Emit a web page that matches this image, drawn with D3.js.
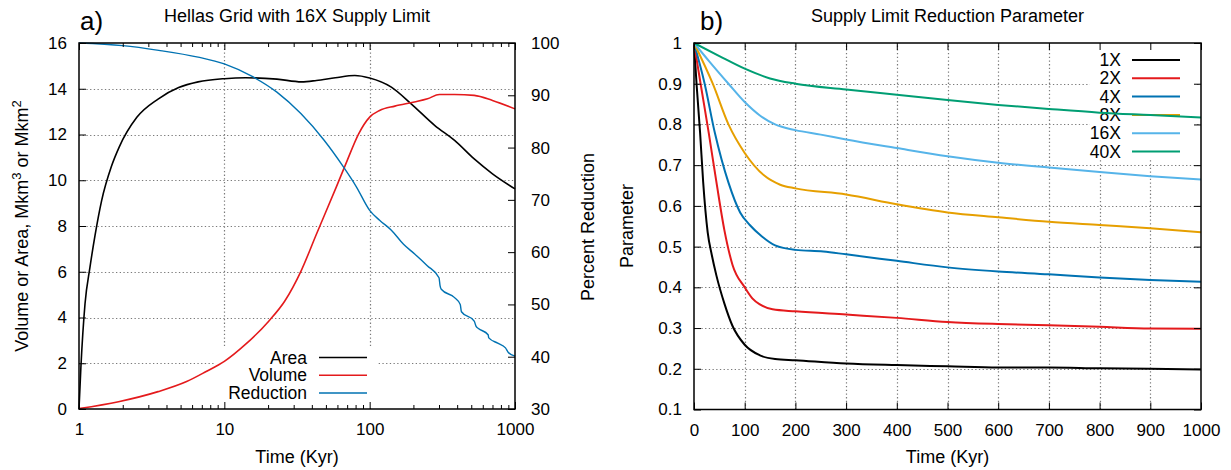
<!DOCTYPE html>
<html>
<head>
<meta charset="utf-8">
<script src="https://cdn.jsdelivr.net/npm/d3@7"></script>
<style>
body { margin: 0; background: #fff; }
text { font-family: "Liberation Sans", Arial, sans-serif; fill: #000; }
.axis path { display: none; }
</style>
</head>
<body>
<svg id="root" width="1231" height="470"></svg>
<script>
// panel a: [time kyr, value]
let areaData = [[1,0],[1.03,1.8],[1.1,4.6],[1.19,6.2],[1.29,7.6],[1.43,9.1],[1.67,10.6],[1.89,11.45],
    [2.5,12.75],[3.5,13.55],[4.85,14.05],[6.6,14.3],[10,14.44],[14,14.48],[23,14.42],[34,14.3],
    [43,14.36],[58,14.48],[79,14.58],[100,14.47],[141,14.07],[193,13.34],[281,12.39],[384,11.74],
    [524,10.93],[700,10.28],[1000,9.62]];
let volumeData = [[1,0.02],[1.87,0.32],[3.5,0.76],[5.5,1.2],[7.5,1.64],[10,2.08],[13.9,2.81],
    [20.2,3.84],[26,4.71],[33.7,6.03],[43,7.64],[58.8,9.69],[70,10.86],[84,12.03],[100,12.76],
    [117,13.05],[149,13.24],[203,13.42],[250,13.56],[302,13.75],[384,13.75],[524,13.71],[700,13.49],
    [1000,13.12]];
let reductionData = [[1,100],[2,99.5],[3.54,98.6],[6.6,97.3],[10,96.0],[15.8,93.5],[23,90.6],
    [33.6,86.5],[48.6,81.4],[66,76.3],[81,72.5],[100,68.0],[117,66.1],[141,64.2],[171,61.5],
    [205,59.6],[249,57.4],[300,55.1],[305,53.6],[311,52.9],[384,51.3],[420,50.0],[428,48.6],
    [524,46.8],[540,45.8],[560,45.4],[653,44.2],[660,43.6],[760,42.6],[860,41.7],[900,40.8],[1000,40.1]];

let leftNames = ['Area', 'Volume', 'Reduction'];
let leftColors = ['#000000', '#e41a1c', '#0072b2'];
let logMajor = [1, 10, 100, 1000];
let leftTicks = [0, 2, 4, 6, 8, 10, 12, 14, 16];
let rightTicks = [30, 40, 50, 60, 70, 80, 90, 100];

// panel b: [time kyr, parameter]
let param1X = [[0,1],[5,0.9],[12,0.78],[18,0.66],[27,0.535],[35,0.48],[44,0.43],[60,0.36],[76,0.305],
    [100,0.259],[130,0.233],[160,0.224],[200,0.221],[300,0.213],[400,0.209],[500,0.206],[600,0.203],
    [700,0.203],[800,0.201],[900,0.2],[1000,0.198]];
let param2X = [[0,1],[13,0.9],[29,0.78],[44,0.66],[60,0.54],[76,0.455],[100,0.4],[115,0.373],[130,0.358],
    [155,0.346],[200,0.341],[300,0.333],[400,0.325],[500,0.315],[600,0.31],[700,0.307],[800,0.303],
    [900,0.299],[1000,0.298]];
let param4X = [[0,1],[21,0.9],[41,0.78],[68,0.657],[91,0.584],[110,0.553],[134,0.525],[160,0.503],
    [200,0.492],[255,0.488],[300,0.481],[400,0.465],[500,0.449],[600,0.439],[700,0.432],[800,0.424],
    [900,0.418],[1000,0.414]];
let param8X = [[0,1],[37,0.9],[68,0.8],[100,0.73],[138,0.675],[170,0.652],[200,0.643],[300,0.628],
    [400,0.604],[500,0.584],[600,0.572],[700,0.561],[800,0.553],[900,0.545],[1000,0.535]];
let param16X = [[0,1],[30,0.955],[68,0.9],[100,0.855],[130,0.822],[160,0.8],[200,0.786],[250,0.775],
    [300,0.763],[400,0.742],[500,0.722],[600,0.706],[700,0.694],[800,0.683],[900,0.673],[1000,0.665]];
let param40X = [[0,1],[50,0.968],[100,0.937],[150,0.913],[200,0.9],[300,0.886],[400,0.873],[500,0.86],
    [600,0.848],[700,0.838],[800,0.829],[900,0.823],[1000,0.817]];

let paramNames = ['1X', '2X', '4X', '8X', '16X', '40X'];
let paramColors = ['#000000', '#e41a1c', '#0072b2', '#e69f00', '#56b4e9', '#009e73'];
let timeTicks = [0, 100, 200, 300, 400, 500, 600, 700, 800, 900, 1000];
let paramTicks = [0.1, 0.2, 0.3, 0.4, 0.5, 0.6, 0.7, 0.8, 0.9, 1];

let svg = d3.select('#root');
let tickFont = 17;
let labelFont = 18;

function styleAxis(g) {
    g.attr('font-size', tickFont).attr('font-family', '"Liberation Sans", Arial, sans-serif');
    g.selectAll('.tick line').attr('stroke', '#000');
    return g;
}

function grid(g, horiz, vals, scale, from, to) {
    g.append('g')
        .selectAll('line')
        .data(vals)
        .join('line')
        .attr('x1', d => horiz ? from : Math.round(scale(d)) + 0.5)
        .attr('x2', d => horiz ? to : Math.round(scale(d)) + 0.5)
        .attr('y1', d => horiz ? Math.round(scale(d)) + 0.5 : from)
        .attr('y2', d => horiz ? Math.round(scale(d)) + 0.5 : to)
        .attr('stroke', '#7a7a7a')
        .attr('stroke-width', 1.2)
        .attr('stroke-dasharray', '1.3,2.4');
}

function legend(g, names, colors, textRight, lineX1, lineX2, top, step, width) {
    names.forEach((name, i) => {
        let y = top + i * step;
        g.append('text').attr('x', textRight).attr('y', y).attr('dy', '0.35em')
            .attr('text-anchor', 'end').attr('font-size', tickFont + 0.5).text(name);
        g.append('line').attr('x1', lineX1).attr('x2', lineX2).attr('y1', y).attr('y2', y)
            .attr('stroke', colors[i]).attr('stroke-width', width);
    });
}

// ---------------- panel a ----------------
function drawLeft() {
    let x = d3.scaleLog().domain([1, 1000]).range([79, 515]);
    let y = d3.scaleLinear().domain([0, 16]).range([409, 43]);
    let y2 = d3.scaleLinear().domain([30, 100]).range([409, 43]);
    let g = svg.append('g');
    let [x0, x1] = x.range();
    let [yb, yt] = y.range();

    grid(g, true, leftTicks.slice(1, -1), y, x0, x1);
    grid(g, false, logMajor.slice(1, -1), x, yb, yt);

    // opaque key box
    g.append('rect').attr('x', 215).attr('y', 347).attr('width', 162).attr('height', 61).attr('fill', '#fff');
    legend(g, leftNames, leftColors, 307, 319, 367, 357.5, 17.8, 1.5);

    let line = d3.line().curve(d3.curveMonotoneX).x(d => x(d[0])).y(d => y(d[1]));
    let line2 = d3.line().curve(d3.curveMonotoneX).x(d => x(d[0])).y(d => y2(d[1]));
    g.append('path').datum(areaData).attr('d', line)
        .attr('fill', 'none').attr('stroke', leftColors[0]).attr('stroke-width', 1.6);
    g.append('path').datum(volumeData).attr('d', line)
        .attr('fill', 'none').attr('stroke', leftColors[1]).attr('stroke-width', 1.6);
    g.append('path').datum(reductionData).attr('d', line2)
        .attr('fill', 'none').attr('stroke', leftColors[2]).attr('stroke-width', 1.4);

    let minor = x.ticks().filter(d => logMajor.indexOf(d) < 0);

    g.append('g').attr('class', 'axis').attr('transform', `translate(0,${yb})`)
        .call(d3.axisBottom(x).tickValues(logMajor).tickFormat(d3.format('d')).tickSize(-7).tickPadding(14))
        .call(styleAxis);
    g.append('g').attr('class', 'axis').attr('transform', `translate(0,${yb})`)
        .call(d3.axisBottom(x).tickValues(minor).tickFormat('').tickSize(-4)).call(styleAxis);
    g.append('g').attr('class', 'axis').attr('transform', `translate(0,${yt})`)
        .call(d3.axisTop(x).tickValues(logMajor).tickFormat('').tickSize(-7)).call(styleAxis);
    g.append('g').attr('class', 'axis').attr('transform', `translate(0,${yt})`)
        .call(d3.axisTop(x).tickValues(minor).tickFormat('').tickSize(-4)).call(styleAxis);
    g.append('g').attr('class', 'axis').attr('transform', `translate(${x0},0)`)
        .call(d3.axisLeft(y).tickValues(leftTicks).tickSize(-7).tickPadding(12)).call(styleAxis);
    g.append('g').attr('class', 'axis').attr('transform', `translate(${x1},0)`)
        .call(d3.axisRight(y2).tickValues(rightTicks).tickSize(-7).tickPadding(16)).call(styleAxis);

    g.append('rect').attr('x', x0).attr('y', yt).attr('width', x1 - x0).attr('height', yb - yt)
        .attr('fill', 'none').attr('stroke', '#000').attr('stroke-width', 1.5);

    g.append('text').attr('x', (x0 + x1) / 2).attr('y', 22).attr('text-anchor', 'middle')
        .attr('font-size', 18).text('Hellas Grid with 16X Supply Limit');
    g.append('text').attr('x', 80).attr('y', 30).attr('font-size', 26).text('a)');
    g.append('text').attr('x', (x0 + x1) / 2).attr('y', 463).attr('text-anchor', 'middle')
        .attr('font-size', labelFont).text('Time (Kyr)');

    let yl = g.append('text').attr('transform', 'translate(28,226) rotate(-90)')
        .attr('text-anchor', 'middle').attr('font-size', labelFont);
    yl.append('tspan').text('Volume or Area, Mkm');
    yl.append('tspan').attr('dy', -7).attr('font-size', 13).text('3');
    yl.append('tspan').attr('dy', 7).text(' or Mkm');
    yl.append('tspan').attr('dy', -7).attr('font-size', 13).text('2');

    g.append('text').attr('transform', 'translate(594,227) rotate(-90)')
        .attr('text-anchor', 'middle').attr('font-size', labelFont).text('Percent Reduction');
}

// ---------------- panel b ----------------
function drawRight() {
    let x = d3.scaleLinear().domain([0, 1000]).range([694, 1201]);
    let y = d3.scaleLinear().domain([0.1, 1]).range([409.5, 43]);
    let g = svg.append('g');
    let [x0, x1] = x.range();
    let [yb, yt] = y.range();

    grid(g, true, paramTicks.slice(1, -1), y, x0, x1);
    grid(g, false, timeTicks.slice(1, -1), x, yb, yt);

    g.append('rect').attr('x', 1090).attr('y', 44).attr('width', 106).attr('height', 116).attr('fill', '#fff');
    legend(g, paramNames, paramColors, 1121, 1132, 1180, 60, 18.3, 2);

    let line = d3.line().curve(d3.curveMonotoneX).x(d => x(d[0])).y(d => y(d[1]));
    let series = [param1X, param2X, param4X, param8X, param16X, param40X];
    g.selectAll('path.curve')
        .data(series)
        .join('path')
        .attr('class', 'curve')
        .attr('d', line)
        .attr('fill', 'none')
        .attr('stroke', (d, i) => paramColors[i])
        .attr('stroke-width', 2);

    g.append('g').attr('class', 'axis').attr('transform', `translate(0,${yb})`)
        .call(d3.axisBottom(x).tickValues(timeTicks).tickFormat(d3.format('d')).tickSize(-7).tickPadding(14))
        .call(styleAxis);
    g.append('g').attr('class', 'axis').attr('transform', `translate(0,${yt})`)
        .call(d3.axisTop(x).tickValues(timeTicks).tickFormat('').tickSize(-7)).call(styleAxis);
    g.append('g').attr('class', 'axis').attr('transform', `translate(${x0},0)`)
        .call(d3.axisLeft(y).tickValues(paramTicks).tickFormat(d3.format('~g')).tickSize(-7).tickPadding(12))
        .call(styleAxis);
    g.append('g').attr('class', 'axis').attr('transform', `translate(${x1},0)`)
        .call(d3.axisRight(y).tickValues(paramTicks).tickFormat('').tickSize(-7)).call(styleAxis);

    g.append('rect').attr('x', x0).attr('y', yt).attr('width', x1 - x0).attr('height', yb - yt)
        .attr('fill', 'none').attr('stroke', '#000').attr('stroke-width', 1.5);

    g.append('text').attr('x', (x0 + x1) / 2).attr('y', 22).attr('text-anchor', 'middle')
        .attr('font-size', 18).text('Supply Limit Reduction Parameter');
    g.append('text').attr('x', 700).attr('y', 30).attr('font-size', 26).text('b)');
    g.append('text').attr('x', (x0 + x1) / 2).attr('y', 463).attr('text-anchor', 'middle')
        .attr('font-size', labelFont).text('Time (Kyr)');
    g.append('text').attr('transform', 'translate(633,226) rotate(-90)')
        .attr('text-anchor', 'middle').attr('font-size', labelFont).text('Parameter');
}

drawLeft();
drawRight();
</script>
</body>
</html>
